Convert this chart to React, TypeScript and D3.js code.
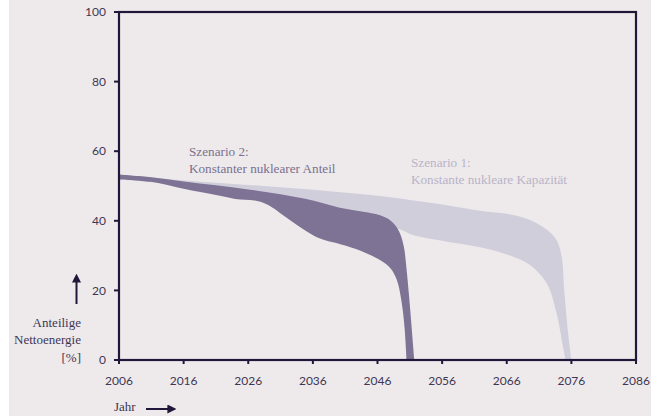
import * as d3 from "d3";

// x axis: years
const yearTicks = [2006, 2016, 2026, 2036, 2046, 2056, 2066, 2076, 2086];
const valueTicks = [0, 20, 40, 60, 80, 100];

// Szenario 2: Konstanter nuklearer Anteil (dark band)
const s2Years = [2006, 2011, 2016, 2021, 2026, 2031, 2036, 2040, 2044, 2046, 2047.5, 2048.6, 2049.5, 2050.1, 2050.5, 2050.9, 2051.3, 2051.7];
const s2Upper = [53.3, 52.5, 51.3, 50.2, 49, 47.6, 45.8, 43.8, 42.5, 41.8, 40.7, 39, 36.3, 32.3, 26, 18, 9, 0];
const s2LowYears = [2006, 2011, 2016, 2021, 2024, 2027, 2029, 2032, 2035, 2037, 2041, 2044, 2046.5, 2048, 2049, 2049.7, 2050.2, 2050.5];
const s2Lower = [51.9, 51.2, 49.2, 47.4, 46.3, 45.8, 44.6, 40.8, 37, 35, 32.9, 30.9, 28.6, 26.4, 23, 17, 9, 0];

// Szenario 1: Konstante nukleare Kapazität (light band)
const s1Years = [2006, 2016, 2026, 2036, 2046, 2051, 2056.7, 2061.9, 2067, 2069.6, 2072.2, 2073.7, 2074.5, 2074.9, 2075.5, 2076];
const s1Upper = [53.3, 51.6, 50.3, 48.9, 47.2, 46, 44.5, 42.9, 41.7, 40.2, 37.4, 34.5, 29.7, 20, 7.7, 0];
const s1LowYears = [2006, 2016, 2026, 2036, 2042, 2046, 2049.5, 2051.5, 2056.7, 2061.9, 2067, 2069.6, 2072.2, 2073.7, 2074.7, 2075.1];
const s1Lower = [51.9, 50.3, 48.3, 44, 40.8, 39, 37.5, 35.9, 34, 32.4, 29.7, 27.3, 22, 13.5, 3.8, 0];

const BG = "#eeeaeb";
const AXIS = "#23163b";
const TEXT = "#3e3654";
const DARK = "#7e7295";
const LIGHT = "#d0cedb";

export default function App() {
  const left = 119, right = 636, top = 12, bottom = 360;
  const x = d3.scaleLinear().domain([2006, 2086]).range([left, right]);
  const y = d3.scaleLinear().domain([0, 100]).range([bottom, top]);

  const edge = d3
    .line<[number, number]>()
    .x((d) => x(d[0]))
    .y((d) => y(d[1]))
    .curve(d3.curveCatmullRom.alpha(0.5));

  const band = (yu: number[], vu: number[], yl: number[], vl: number[]) => {
    const up = yu.map((yr, i) => [yr, vu[i]] as [number, number]);
    const low = yl.map((yr, i) => [yr, vl[i]] as [number, number]).reverse();
    return edge(up)! + (edge(low) || "").replace(/^M/, "L") + "Z";
  };

  const sans = "Lato, 'Open Sans', sans-serif";
  const serif = "'Liberation Serif', 'DejaVu Serif', serif";

  return (
    <div style={{ position: "fixed", left: 0, top: 0 }}>
      <svg width={651} height={418} style={{ display: "block", background: "#fff" }}>
        <defs>
          <marker id="ah" viewBox="0 0 10 10" refX="4" refY="5" markerWidth="4.5" markerHeight="4.5" orient="auto">
            <path d="M0,0 L10,5 L0,10 z" fill={AXIS} />
          </marker>
        </defs>
        <rect x={9} y={0} width={642} height={416} fill={BG} />

        <path d={band(s1Years, s1Upper, s1LowYears, s1Lower)} fill={LIGHT} />
        <path d={band(s2Years, s2Upper, s2LowYears, s2Lower)} fill={DARK} />

        {/* frame */}
        <rect x={left} y={top} width={right - left} height={bottom - top} fill="none" stroke={AXIS} strokeWidth={2.2} />

        {valueTicks.map((v) => (
          <g key={v}>
            <line x1={left - 5} x2={left} y1={y(v)} y2={y(v)} stroke={AXIS} strokeWidth={2} />
            <text x={106} y={y(v)} dy="0.35em" textAnchor="end" fontFamily={sans} fontSize={12} fill={TEXT}>
              {v}
            </text>
          </g>
        ))}
        {yearTicks.map((yr) => (
          <g key={yr}>
            <line x1={x(yr)} x2={x(yr)} y1={bottom} y2={bottom + 4} stroke={AXIS} strokeWidth={2} />
            <text x={x(yr)} y={385} textAnchor="middle" fontFamily={sans} fontSize={12} fill={TEXT}>
              {yr}
            </text>
          </g>
        ))}

        {/* y axis title */}
        <line x1={76.5} x2={76.5} y1={304} y2={279} stroke={AXIS} strokeWidth={2} markerEnd="url(#ah)" />
        <g fontFamily={serif} fontSize={13} fill={TEXT} textAnchor="end">
          <text x={81} y={327}>Anteilige</text>
          <text x={81} y={344}>Nettoenergie</text>
          <text x={81} y={362}>[%]</text>
        </g>

        {/* x axis title */}
        <text x={114} y={411} fontFamily={serif} fontSize={13} fill={TEXT}>Jahr</text>
        <line x1={146} x2={171} y1={409} y2={409} stroke={AXIS} strokeWidth={2} markerEnd="url(#ah)" />

        {/* scenario labels */}
        <g fontFamily={serif} fontSize={13.2} fill="#7a7090">
          <text x={189} y={156}>Szenario 2:</text>
          <text x={189} y={173}>Konstanter nuklearer Anteil</text>
        </g>
        <g fontFamily={serif} fontSize={13.2} fill="#b9b3c9">
          <text x={411} y={167}>Szenario 1:</text>
          <text x={411} y={184}>Konstante nukleare Kapazität</text>
        </g>
      </svg>
    </div>
  );
}
